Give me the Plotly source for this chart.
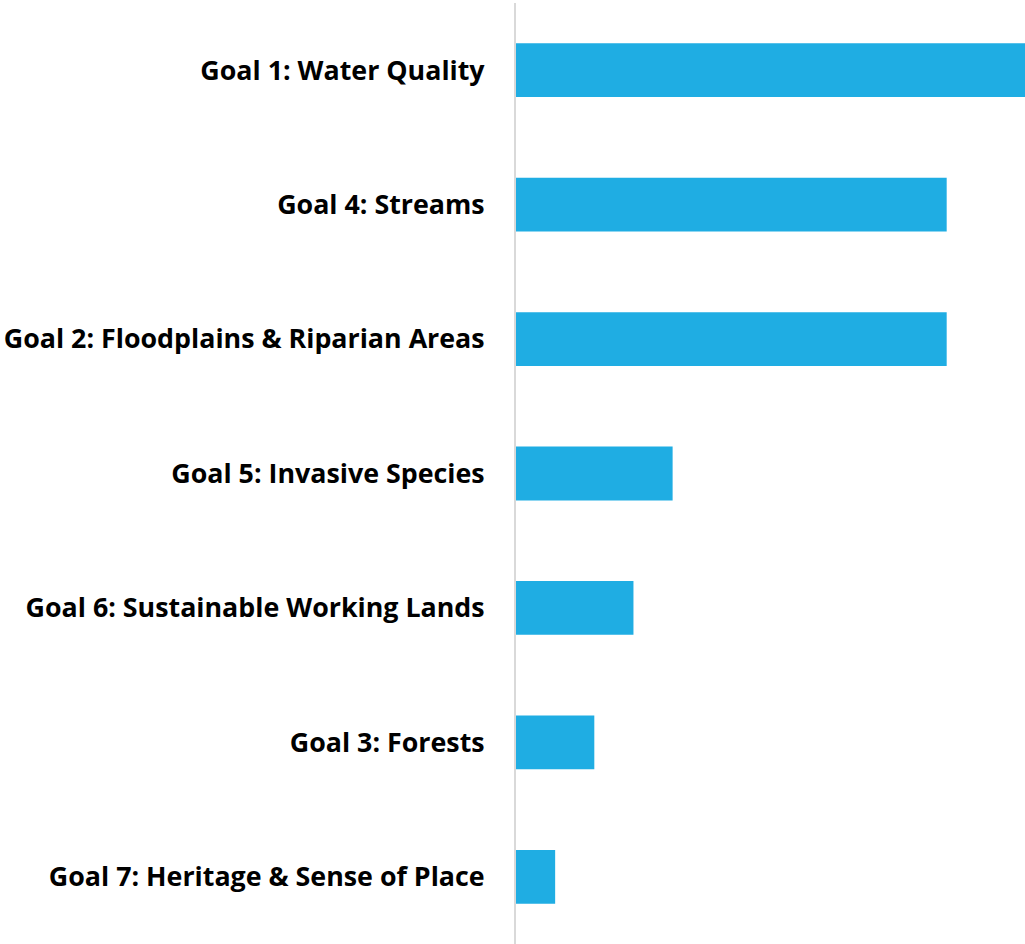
import plotly.graph_objects as go

categories = [
    "Goal 1: Water Quality",
    "Goal 4: Streams",
    "Goal 2: Floodplains & Riparian Areas",
    "Goal 5: Invasive Species",
    "Goal 6: Sustainable Working Lands",
    "Goal 3: Forests",
    "Goal 7: Heritage & Sense of Place",
]
values = [13, 11, 11, 4, 3, 2, 1]

fig = go.Figure(go.Bar(
    x=values, y=categories, orientation="h",
    marker=dict(color="#1FADE3", line=dict(width=0)),
))
fig.update_layout(
    width=1025, height=944,
    margin=dict(l=516, r=0, t=3, b=0),
    paper_bgcolor="white", plot_bgcolor="white",
    bargap=0.6, showlegend=False,
    font=dict(family="Open Sans", color="black"),
)
fig.update_xaxes(range=[0, 13], visible=False, showgrid=False, zeroline=False)
fig.update_yaxes(
    autorange="reversed", showgrid=False, zeroline=False,
    showline=True, linecolor="#d9d9d9", linewidth=2,
    ticks="", ticklabelstandoff=24,
    tickfont=dict(family="Open Sans", size=26.8, color="black", weight="bold"),
)
fig.write_html("out.html", config={"displayModeBar": False},
               post_script="document.body.style.margin='0';")
